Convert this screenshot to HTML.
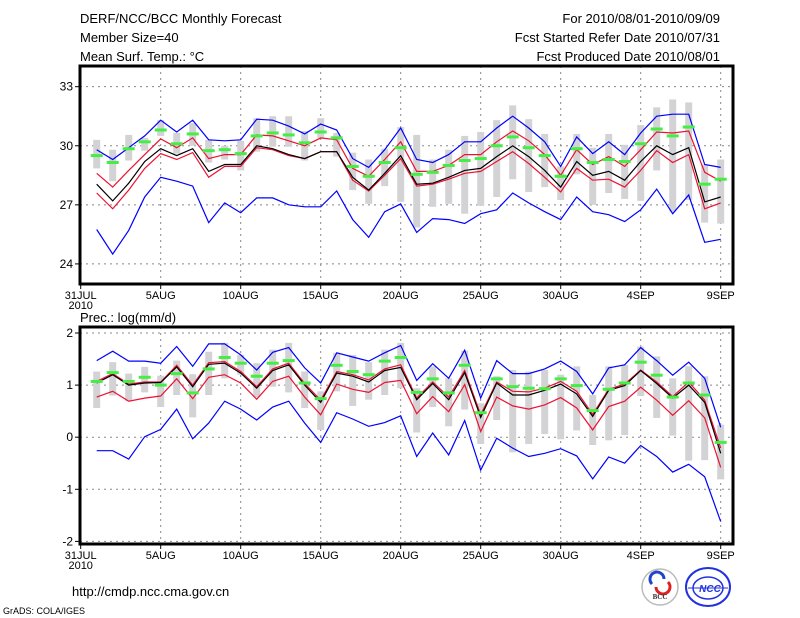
<!DOCTYPE html>
<html><head><meta charset="utf-8"><style>
html,body{margin:0;padding:0;background:#fff;}
svg{display:block;font-family:"Liberation Sans",sans-serif;}
</style></head><body>
<svg id="chart" width="800" height="618" viewBox="0 0 800 618" xmlns="http://www.w3.org/2000/svg">
<rect width="800" height="618" fill="#fff"/>
<g font-size="13" fill="#000">
<text x="80" y="23">DERF/NCC/BCC Monthly Forecast</text>
<text x="80" y="42">Member Size=40</text>
<text x="80" y="61">Mean Surf. Temp.: °C</text>
<text x="720" y="23" text-anchor="end">For 2010/08/01-2010/09/09</text>
<text x="720" y="42" text-anchor="end">Fcst Started Refer Date 2010/07/31</text>
<text x="720" y="61" text-anchor="end">Fcst Produced Date 2010/08/01</text>
</g>
<text x="80" y="322" font-size="13">Prec.: log(mm/d)</text>
<g id="top"></g>
<g id="bot"></g>
<text x="72" y="596" font-size="13">http://cmdp.ncc.cma.gov.cn</text>
<text x="3" y="614" font-size="9">GrADS: COLA/IGES</text>
<g>
<circle cx="660" cy="587" r="18" fill="#fff" stroke="#bbb" stroke-width="1.5"/>
<path d="M652 584 a7 7 0 1 1 12 -5" fill="none" stroke="#2244cc" stroke-width="3"/>
<path d="M668 582 a7 7 0 1 1 -12 5" fill="none" stroke="#dd2222" stroke-width="3"/>
<text x="660" y="599" font-size="7" text-anchor="middle" font-family="Liberation Serif,serif" font-weight="bold" fill="#333">BCC</text>
</g>
<g>
<ellipse cx="708" cy="587" rx="22" ry="19" fill="#fff" stroke="#2233dd" stroke-width="2"/>
<ellipse cx="708" cy="588" rx="15" ry="11" fill="none" stroke="#2233dd" stroke-width="1.5"/>
<line x1="688" y1="588" x2="728" y2="588" stroke="#2233dd" stroke-width="1"/>
<text x="710" y="592" font-size="10" text-anchor="middle" font-style="italic" font-weight="bold" fill="#2233dd">NCC</text>
</g>
</svg>
<script>
// ---- Temperature panel data (days 1..40) ----
const dayTicks=[0,5,10,15,20,25,30,35,40];
const dayTickLabels=["31JUL","5AUG","10AUG","15AUG","20AUG","25AUG","30AUG","4SEP","9SEP"];
const tTicks=[24,27,30,33];
const tMax=[29.8,29.3,29.9,30.5,31.3,30.7,31.3,30.3,30.25,30.3,31.35,31.3,31.0,30.6,31.1,30.8,29.35,28.9,29.8,30.9,29.3,29.15,29.55,30.2,30.2,30.9,31.5,30.9,30.2,28.95,30.45,29.6,30.2,29.55,30.65,31.5,31.6,31.6,29.05,28.9];
const tUp=[28.6,27.9,28.75,29.55,30.35,29.9,30.4,29.35,29.55,29.55,30.55,30.5,30.25,30.0,30.4,30.3,28.85,28.45,29.3,30.2,28.7,28.7,29.0,29.55,29.55,30.2,30.75,30.25,29.55,28.5,29.8,29.05,29.45,28.95,29.8,30.7,30.65,30.75,28.65,28.2];
const tMean=[28.05,27.2,28.1,29.2,29.85,29.5,29.85,28.7,29.05,29.05,30.0,29.85,29.55,29.35,29.7,29.7,28.4,27.75,28.6,29.5,28.05,28.1,28.4,28.75,28.85,29.45,30.0,29.45,28.75,27.9,29.2,28.5,28.7,28.25,29.2,30.0,29.55,29.9,27.15,27.4];
const tLow=[27.6,26.8,27.75,28.85,29.6,29.3,29.65,28.4,28.95,28.95,29.9,29.8,29.5,29.35,29.7,29.7,28.25,27.7,28.5,29.35,27.95,28.05,28.3,28.6,28.7,29.2,29.7,29.1,28.4,27.65,28.85,28.25,28.3,27.9,28.75,29.75,29.15,29.55,26.8,27.1];
const tMin=[25.75,24.5,25.7,27.4,28.4,28.2,27.95,26.1,27.1,26.6,27.35,27.35,27.0,26.9,26.9,27.7,26.25,25.35,26.65,27.05,25.6,26.3,26.25,26.05,26.55,26.75,27.6,27.1,26.65,26.25,27.4,26.65,26.5,26.15,26.75,27.8,26.55,27.5,25.1,25.25];
const tBarTop=[30.3,29.8,30.55,30.4,31.3,30.65,31.15,30.3,30.0,30.25,31.4,31.5,31.5,30.75,31.4,30.65,29.65,29.3,29.85,30.95,30.55,29.3,29.8,30.5,30.7,31.3,32.05,31.35,30.6,28.95,30.6,29.9,30.6,30.05,31.05,31.95,32.35,32.2,29.05,29.3];
const tBarBot=[28.85,28.2,29.25,29.75,30.5,29.6,30.0,29.15,29.3,28.75,29.7,29.95,29.95,29.25,30.4,29.45,27.75,27.05,27.95,27.15,25.85,26.9,27.05,26.55,26.95,27.4,28.3,27.65,27.9,27.25,28.55,27.0,27.6,27.3,27.2,28.75,26.65,27.25,26.1,26.05];
const tObs=[29.5,29.15,29.85,30.2,30.8,30.1,30.6,29.75,29.8,29.6,30.5,30.65,30.55,30.15,30.7,30.4,28.95,28.45,29.15,29.9,28.55,28.65,29.0,29.25,29.35,30.0,30.45,29.9,29.5,28.45,29.85,29.15,29.3,29.2,30.1,30.85,30.5,30.95,28.05,28.3];
// ---- Precipitation panel data ----
const pTicks=[-2,-1,0,1,2];
const pMax=[1.47,1.65,1.46,1.46,1.42,1.74,1.36,1.79,1.79,1.58,1.29,1.63,1.72,1.33,1.04,1.62,1.54,1.46,1.62,1.76,1.09,1.41,1.13,1.67,0.75,1.47,1.22,1.22,1.31,1.46,1.26,0.83,1.33,1.39,1.72,1.47,1.19,1.44,1.13,0.19];
const pUp=[1.07,1.22,1.02,1.06,1.06,1.38,1.0,1.43,1.45,1.26,0.97,1.31,1.42,1.03,0.71,1.26,1.2,1.1,1.31,1.39,0.75,1.06,0.77,1.28,0.43,1.06,0.88,0.87,0.94,1.07,0.88,0.44,0.92,1.02,1.29,1.06,0.78,1.06,0.71,-0.21];
const pMean=[1.04,1.2,1.0,1.04,1.05,1.35,0.97,1.4,1.42,1.23,0.94,1.28,1.39,1.0,0.67,1.23,1.17,1.06,1.28,1.34,0.72,1.03,0.72,1.24,0.38,1.04,0.81,0.81,0.9,1.02,0.83,0.4,0.9,0.99,1.28,1.03,0.75,1.0,0.67,-0.31];
const pLow=[0.77,0.88,0.69,0.75,0.79,1.12,0.74,1.15,1.2,1.04,0.73,1.07,1.17,0.77,0.43,1.02,0.92,0.86,1.05,1.09,0.45,0.78,0.49,1.01,0.11,0.77,0.6,0.54,0.62,0.76,0.56,0.14,0.59,0.69,0.96,0.71,0.42,0.7,0.37,-0.58];
const pMin=[-0.26,-0.26,-0.42,0.01,0.15,0.54,-0.03,0.27,0.69,0.54,0.33,0.58,0.69,0.27,-0.1,0.47,0.35,0.21,0.28,0.41,-0.37,0.08,-0.34,0.32,-0.63,-0.02,-0.21,-0.37,-0.31,-0.22,-0.36,-0.8,-0.38,-0.5,-0.16,-0.37,-0.67,-0.52,-0.76,-1.62];
const pBarTop=[1.26,1.44,1.22,1.35,1.18,1.47,1.21,1.64,1.81,1.58,1.42,1.68,1.81,1.26,0.88,1.62,1.58,1.44,1.68,1.81,0.94,1.36,1.13,1.66,0.65,1.17,1.29,1.26,1.29,1.2,1.36,0.81,1.36,1.39,1.74,1.55,1.13,1.36,1.17,0.24];
const pBarBot=[0.56,0.8,0.69,0.86,0.58,0.81,0.38,0.81,1.13,1.2,0.77,0.97,0.86,0.56,0.14,0.88,0.6,0.72,0.81,0.94,0.09,0.58,0.21,0.53,-0.13,0.33,-0.29,-0.13,0.06,-0.04,0.13,-0.15,-0.06,0.04,0.79,0.37,0.03,-0.45,-0.44,-0.81];
const pObs=[1.07,1.24,1.07,1.15,1.0,1.22,0.85,1.31,1.53,1.42,1.17,1.42,1.47,1.04,0.74,1.38,1.26,1.2,1.46,1.53,0.86,1.12,0.85,1.38,0.47,1.12,0.97,0.94,0.93,1.12,0.99,0.51,0.92,1.04,1.44,1.19,0.77,1.04,0.81,-0.1];

const NS="http://www.w3.org/2000/svg";
function mk(parent,tag,attrs){const e=document.createElementNS(NS,tag);for(const k in attrs)e.setAttribute(k,attrs[k]);parent.appendChild(e);return e;}
const X0=80,X1=733;
function xs(d){return 80.7+16*d;}

function panel(g,top,bottom,vTop,vBot,yTicks,series,showYear){
  const ys=v=>top+(vTop-v)/(vTop-vBot)*(bottom-top);
  // grid
  for(const d of dayTicks){ if(d===0)continue;
    const l=mk(g,'line',{x1:xs(d),x2:xs(d),y1:top,y2:bottom,stroke:'#888','stroke-width':1,'stroke-dasharray':'2,4'});
    
    
  }
  for(const v of yTicks){
    const l=mk(g,'line',{x1:X0,x2:X1,y1:ys(v),y2:ys(v),stroke:'#888','stroke-width':1,'stroke-dasharray':'2,4'});
    
    
    const tk=mk(g,'line',{x1:X0-5,x2:X0,y1:ys(v),y2:ys(v),stroke:'#000','stroke-width':1});
    
    
    const t=mk(g,'text',{x:X0-7,y:ys(v)+4,'font-size':12,'text-anchor':'end'});
    t.textContent=String(v);
    
    
  }
  // bars
  const [mx,up,mean,lo,mn,bt,bb,obs]=series;
  for(let i=0;i<mean.length;i++){
    const d=i+1;
    const r=mk(g,'rect',{x:xs(d)-3.5,y:ys(bt[i]),width:7,height:ys(bb[i])-ys(bt[i]),fill:'#d3d3d6'});
    
    
  }
  function line(arr,color,name){
    const pts=arr.map((v,i)=>xs(i+1).toFixed(1)+','+ys(v).toFixed(1)).join(' ');
    const p=mk(g,'polyline',{points:pts,fill:'none',stroke:color,'stroke-width':1.2});
    
    
  }
  line(mn,'#0000ff','min-line');
  line(mx,'#0000ff','max-line');
  line(lo,'#ee1133','lower-line');
  line(up,'#ee1133','upper-line');
  line(mean,'#000','ensemble-mean-line');
  for(let i=0;i<obs.length;i++){
    const r=mk(g,'rect',{x:xs(i+1)-6,y:ys(obs[i])-1.5,width:12,height:3,fill:'#44ee44'});
    
    
  }
  // frame
  const f=mk(g,'rect',{x:X0,y:top,width:X1-X0,height:bottom-top,fill:'none',stroke:'#000','stroke-width':3});
  
  
  dayTicks.forEach((d,i)=>{
    const tk=mk(g,'line',{x1:xs(d),x2:xs(d),y1:bottom,y2:bottom+5,stroke:'#000','stroke-width':1});
    
    
    const t=mk(g,'text',{x:xs(d),y:bottom+15,'font-size':11,'text-anchor':'middle'});
    t.textContent=dayTickLabels[i];
    
    
  });
  const yr=mk(g,'text',{x:xs(0),y:bottom+25,'font-size':11,'text-anchor':'middle'});
  yr.textContent='2010';
  
  
}
panel(document.getElementById('top'),66,284,34.05,22.98,tTicks,[tMax,tUp,tMean,tLow,tMin,tBarTop,tBarBot,tObs]);
panel(document.getElementById('bot'),327,544,2.115,-2.05,pTicks,[pMax,pUp,pMean,pLow,pMin,pBarTop,pBarBot,pObs]);
</script>
</body></html>
